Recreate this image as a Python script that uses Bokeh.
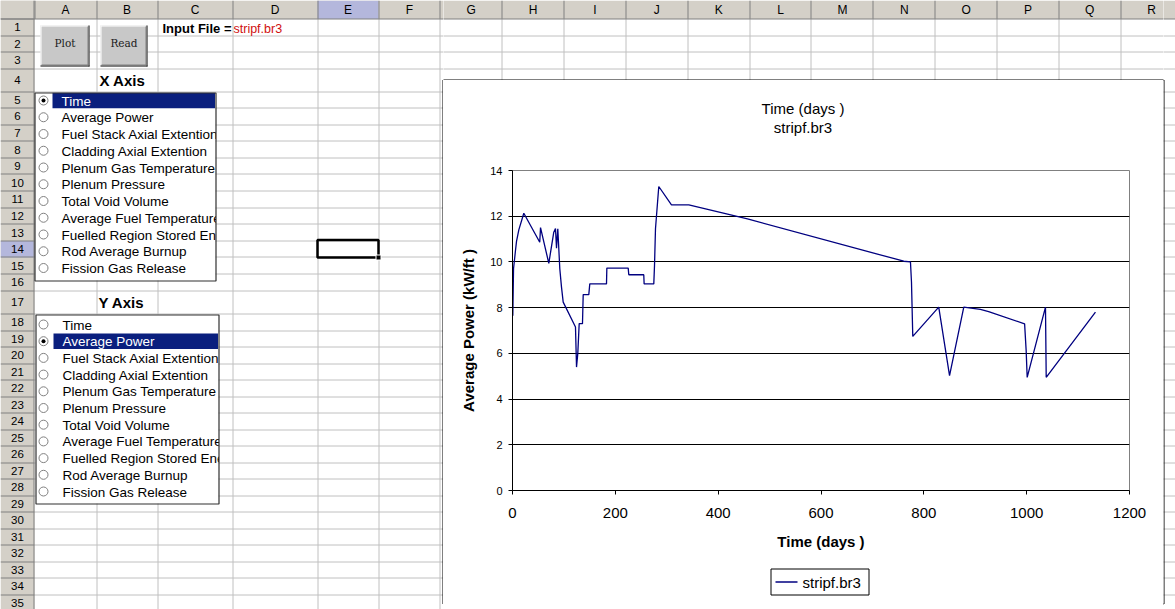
import math
from bokeh.plotting import figure
from bokeh.layouts import row, column
from bokeh.models import Range1d, FixedTicker, Plot
from bokeh.embed import file_html
from bokeh.resources import INLINE
from bokeh.core.properties import value

# ---------------- chart data ----------------
time_days = [0.6, 2, 5.8, 7.8, 12.3, 22, 53, 54.5, 70.6, 80.3, 83.6, 85.6, 88.1,
             92, 95.3, 98.6, 122.5, 124.5, 127, 129.7, 136.1, 137.5, 148.4, 150.3,
             182.8, 183.5, 225, 226.2, 255.3, 256, 274.8, 276.2, 278.1, 284.5,
             309.2, 342.9, 457, 761, 774, 776, 778.5, 829, 850, 877.7, 910, 926,
             996, 999, 1001, 1036.6, 1038, 1133.8]
avg_power = [7.65, 9.7, 10.5, 10.9, 11.4, 12.13, 10.86, 11.5, 9.94, 11.3, 11.46, 10.6, 11.45,
             9.7, 8.9, 8.24, 7.15, 5.4, 6.0, 7.3, 7.3, 8.57, 8.57, 9.04,
             9.04, 9.73, 9.73, 9.44, 9.44, 9.04, 9.04, 9.84, 11.45, 13.3,
             12.5, 12.5, 11.88, 10.03, 10.0, 9.11, 6.74, 8.02, 5.03, 8.02, 7.92, 7.83,
             7.29, 6.13, 4.95, 8.02, 4.95, 7.8]
series_name = "stripf.br3"
x_ticks = [0, 200, 400, 600, 800, 1000, 1200]
y_ticks = [0, 2, 4, 6, 8, 10, 12, 14]
chart_title = "Time (days )"
chart_subtitle = "stripf.br3"
x_title = "Time (days )"
y_title = "Average Power (kW/ft )"

# ---------------- sheet content ----------------
col_letters = list("ABCDEFGHIJKLMNOPQR")
list_items = ["Time", "Average Power", "Fuel Stack Axial Extention", "Cladding Axial Extention",
              "Plenum Gas Temperature", "Plenum Pressure", "Total Void Volume",
              "Average Fuel Temperature", "Fuelled Region Stored Energy",
              "Rod Average Burnup", "Fission Gas Release"]
input_label = "Input File ="
input_file = "stripf.br3"
button_labels = ["Plot", "Read"]
axis_headings = ["X Axis", "Y Axis"]

# ---------------- layout (screen pixels) ----------------
W, H = 1175, 609
col_edges = [34, 96, 157, 232, 317, 378] + [378 + 61.85 * k for k in range(1, 14)]
row_edges = [18.4]
tall = {4: 22.8, 17: 23.3}
for r in range(1, 36):
    row_edges.append(row_edges[-1] + tall.get(r, 16.6 if r < 17 else 16.5))
CH_L, CH_T, CH_R, CH_B = 443, 80, 1163, 603   # chart box interior
TITLE_B = 150                                  # bottom of the title strip
LEG_T = 560                                    # top of the legend strip
LINE_COLOR = "#000080"

FONT = "Liberation Sans"
HDR = "#d4d0c8"
HDR_SEL = "#b4b7dc"
GRID = "#c0c0c0"
NAVY = "#0a1f7e"
HAS_FA = "frame_align" in Plot.properties()

boxes = [dict(l=34, r=215, t=92, b=280, first=100, step=16.75, sel=0, tx=61, hl=52),
         dict(l=35, r=218, t=314, b=503, first=324, step=16.7, sel=1, tx=62, hl=53)]


def px(v):
    return math.floor(v) + 0.5


def cut(intervals, a, b):
    out = []
    for (s, e) in intervals:
        if e <= a or s >= b:
            out.append((s, e))
        else:
            if s < a:
                out.append((s, a))
            if e > b:
                out.append((b, e))
    return out


def plain_fig(x0, x1, y0, y1):
    f = figure(width=x1 - x0, height=y1 - y0, x_range=Range1d(x0, x1), y_range=Range1d(y1, y0),
               output_backend="svg", toolbar_location=None, min_border=0,
               x_axis_type=None, y_axis_type=None)
    f.grid.visible = False
    f.outline_line_color = None
    f.background_fill_color = "white"
    f.border_fill_color = "white"
    if HAS_FA:
        f.frame_align = False
    return f


def sheet_fig(x0, x1, y0, y1):
    f = plain_fig(x0, x1, y0, y1)

    def vis(x, y):
        return x0 <= x < x1 and y0 <= y < y1

    def txt(x, y, s, size, color="black", style="normal", align="left", font=FONT):
        if vis(x, y):
            f.text(x=[x], y=[y], text=[s], text_font=value(font), text_font_size=size,
                   text_color=color, text_font_style=style, text_align=align,
                   text_baseline="middle")

    # list boxes: fill, highlight, radios, item texts
    for bx in boxes:
        f.quad(left=bx["l"], right=bx["r"], top=bx["t"], bottom=bx["b"],
               fill_color="white", line_color=None)
        ys = [bx["first"] + i * bx["step"] for i in range(len(list_items))]
        ysel = ys[bx["sel"]]
        f.quad(left=bx["hl"], right=bx["r"] - 0.5, top=ysel - 7.8, bottom=ysel + 7.8,
               fill_color=NAVY, line_color=None)
        f.scatter(x=[43] * len(ys), y=ys, size=9, marker="circle", fill_color="white",
                  line_color="#808080", line_width=1)
        f.scatter(x=[43], y=[ysel], size=4, marker="circle", fill_color="black", line_color=None)
        for i, (yy, s) in enumerate(zip(ys, list_items)):
            txt(bx["tx"], yy + 0.5, s, "13.5px", color="white" if i == bx["sel"] else "black")
        # hide the overflowing part of the item texts
        f.quad(left=bx["r"] + 0.5, right=316.5, top=bx["t"], bottom=bx["b"],
               fill_color="white", line_color=None)

    # grid lines (not inside list boxes)
    xs, ys = [], []
    for yv in row_edges[1:]:
        iv = [(34, W + 20)]
        for bx in boxes:
            if bx["t"] <= yv <= bx["b"]:
                iv = cut(iv, bx["l"], bx["r"])
        for (s, e) in iv:
            xs.append([s, e]); ys.append([px(yv), px(yv)])
    for xv in col_edges[1:]:
        iv = [(18.4, H + 20)]
        for bx in boxes:
            if bx["l"] <= xv <= bx["r"]:
                iv = cut(iv, bx["t"], bx["b"])
        for (s, e) in iv:
            xs.append([px(xv), px(xv)]); ys.append([s, e])
    f.multi_line(xs=xs, ys=ys, line_color=GRID, line_width=1)

    # headers
    f.quad(left=0, right=W + 20, top=0, bottom=row_edges[0], fill_color=HDR, line_color=None)
    f.quad(left=0, right=34, top=0, bottom=H + 20, fill_color=HDR, line_color=None)
    f.quad(left=col_edges[4], right=col_edges[5], top=0, bottom=row_edges[0],
           fill_color=HDR_SEL, line_color=None)
    f.quad(left=0, right=34, top=row_edges[13], bottom=row_edges[14],
           fill_color=HDR_SEL, line_color=None)
    hx, hy = [], []
    for xv in col_edges:
        hx.append([px(xv), px(xv)]); hy.append([0, row_edges[0]])
    for yv in row_edges:
        hx.append([0, 34]); hy.append([px(yv), px(yv)])
    hx.append([0, W + 20]); hy.append([px(row_edges[0]), px(row_edges[0])])
    hx.append([33.5, 33.5]); hy.append([0, H + 20])
    f.multi_line(xs=hx, ys=hy, line_color="#808080", line_width=1)
    for i, s in enumerate(col_letters):
        txt((col_edges[i] + col_edges[i + 1]) / 2, 9.5, s, "12px", align="center")
    for r in range(1, 36):
        txt(17, (row_edges[r - 1] + row_edges[r]) / 2, str(r), "11.5px", align="center")

    # list box borders
    for bx in boxes:
        f.quad(left=bx["l"] + 0.5, right=bx["r"] + 0.5, top=bx["t"] + 0.5, bottom=bx["b"] + 0.5,
               fill_color=None, line_color="#303030", line_width=1.2)

    # buttons
    for (l, r, s) in [(40, 89, button_labels[0]), (100, 147, button_labels[1])]:
        t, b = 25, 66
        f.quad(left=l, right=r, top=t, bottom=b, fill_color="#c8c8c8", line_color=None)
        f.multi_line(xs=[[l + 0.5, r - 1], [l + 0.5, l + 0.5]], ys=[[t + 0.5, t + 0.5], [t, b - 1]],
                     line_color="white", line_width=1)
        f.multi_line(xs=[[l, r], [r - 0.5, r - 0.5]], ys=[[b - 0.5, b - 0.5], [t, b]],
                     line_color="#202020", line_width=1)
        f.multi_line(xs=[[l + 1, r - 1], [r - 1.5, r - 1.5]], ys=[[b - 1.5, b - 1.5], [t + 1, b - 1]],
                     line_color="#808080", line_width=1)
        txt((l + r) / 2, 42, s, "10.5px", color="#202020", align="center", font="DejaVu Serif")

    # active cell E14
    f.quad(left=col_edges[4], right=col_edges[5], top=row_edges[13] - 1, bottom=row_edges[14],
           fill_color=None, line_color="black", line_width=2.5)
    f.scatter(x=[col_edges[5]], y=[row_edges[14]], size=5, marker="square",
              fill_color="black", line_color="white", line_width=1)

    # cell texts
    txt(162, 28, input_label, "13px", style="bold")
    txt(233, 28, input_file, "12.5px", color="#d01010")
    txt(99, 80, axis_headings[0], "15px", style="bold")
    txt(98, 302, axis_headings[1], "15px", style="bold")

    # chart area border
    f.quad(left=CH_L - 0.5, right=CH_R + 0.5, top=CH_T - 0.5, bottom=CH_B + 0.5,
           fill_color=None, line_color="black", line_width=1)
    return f


left = sheet_fig(0, CH_L, 0, H)
top = sheet_fig(CH_L, CH_R, 0, CH_T)
bottom = sheet_fig(CH_L, CH_R, CH_B, H)
right = sheet_fig(CH_R, W, 0, H)

# ---------------- chart title strip ----------------
title_fig = plain_fig(CH_L, CH_R, CH_T, TITLE_B)
title_fig.text(x=[802.5, 802.5], y=[108, 127], text=[chart_title, chart_subtitle],
               text_font=value(FONT), text_font_size="15px", text_color="black",
               text_align="center", text_baseline="middle")

# ---------------- the chart ----------------
chart = figure(width=CH_R - CH_L, height=LEG_T - TITLE_B,
               x_range=Range1d(0, 1200), y_range=Range1d(0, 14),
               output_backend="svg", toolbar_location=None,
               min_border_left=69, min_border_right=34, min_border_top=170 - TITLE_B,
               min_border_bottom=LEG_T - 490)
if HAS_FA:
    chart.frame_align = False
chart.background_fill_color = "white"
chart.border_fill_color = "white"
chart.outline_line_color = "#808080"

chart.xaxis.ticker = FixedTicker(ticks=x_ticks)
chart.yaxis.ticker = FixedTicker(ticks=y_ticks)
chart.axis.axis_line_color = "black"
chart.axis.major_tick_line_color = "black"
chart.axis.major_tick_out = 4
chart.axis.major_tick_in = 0
chart.axis.minor_tick_line_color = None
chart.axis.major_label_text_font = FONT
chart.axis.major_label_text_color = "black"
chart.xaxis.major_label_text_font_size = "15px"
chart.yaxis.major_label_text_font_size = "11px"
chart.xaxis.major_label_standoff = 13
chart.yaxis.major_label_standoff = 6
chart.axis.axis_label_text_font = FONT
chart.axis.axis_label_text_font_style = "bold"
chart.axis.axis_label_text_font_size = "15px"
chart.axis.axis_label_text_color = "black"
chart.xaxis.axis_label = x_title
chart.yaxis.axis_label = y_title
chart.xaxis.axis_label_standoff = 12
chart.yaxis.axis_label_standoff = 10
chart.xgrid.visible = False
chart.ygrid.ticker = FixedTicker(ticks=y_ticks[1:-1])
chart.ygrid.grid_line_color = "black"
chart.ygrid.grid_line_width = 1

chart.line(time_days, avg_power, line_color=LINE_COLOR, line_width=1.3)

# ---------------- legend strip (key for the one series) ----------------
leg = plain_fig(CH_L, CH_R, LEG_T, CH_B)
leg.quad(left=770.5, right=868.5, top=568.5, bottom=594.5, fill_color="white",
         line_color="black", line_width=1)
leg.line(x=[775, 797], y=[581.5, 581.5], line_color=LINE_COLOR, line_width=1.3)
leg.text(x=[802], y=[581.5], text=[series_name], text_font=value(FONT), text_font_size="15px",
         text_color="black", text_align="left", text_baseline="middle")

layout = row(left, column(top, title_fig, chart, leg, bottom), right)
open("out.html", "w").write(file_html(layout, INLINE))
